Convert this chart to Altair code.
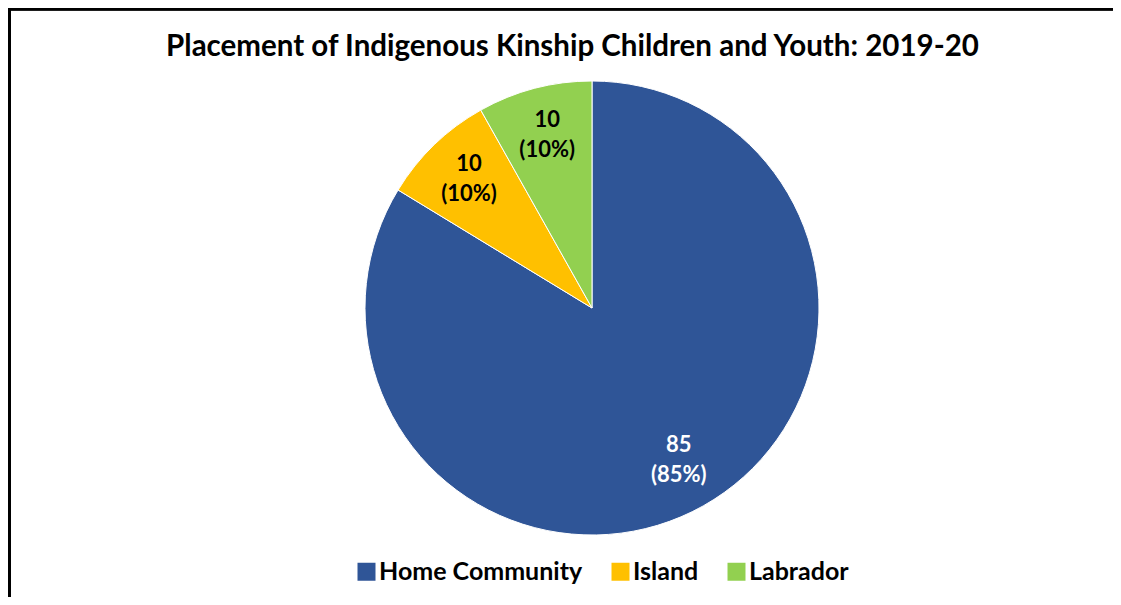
import altair as alt
import pandas as pd

# ---- data ----
categories = ["Home Community", "Island", "Labrador"]
counts = [85, 10, 10]            # value printed on each slice
percents = [85, 10, 10]          # percentage printed on each slice
slice_shares = [83.7, 8.15, 8.15]  # share of the circle each slice covers in the drawing
colors = ["#2F5597", "#FFC000", "#92D050"]
title_text = "Placement of Indigenous Kinship Children and Youth: 2019-20"

df = pd.DataFrame({
    "category": categories,
    "count": counts,
    "percent": percents,
    "share": slice_shares,
    "order": list(range(len(categories))),
})
df["label"] = [f"{c}\n({p}%)" for c, p in zip(counts, percents)]

W, H = 1105, 589
CX, CY, R = 584, 300, 227
FONT = "Lato"

base = alt.Chart(df).encode(
    theta=alt.Theta("share:Q", stack=True),
    order=alt.Order("order:Q"),
)

pie = base.mark_arc(outerRadius=R, stroke="white", strokeWidth=1).encode(
    x=alt.value(CX),
    y=alt.value(CY),
    color=alt.Color(
        "category:N",
        scale=alt.Scale(domain=categories, range=colors),
        sort=categories,
        legend=alt.Legend(
            title=None,
            orient="none",
            legendX=346,
            legendY=551,
            direction="horizontal",
            symbolType="square",
            symbolSize=324,
            symbolStrokeWidth=0,
            labelFont=FONT,
            labelFontSize=25,
            labelFontWeight="bold",
            labelColor="black",
            labelOffset=0,
            labelLimit=400,
            columnPadding=25,
        ),
    ),
)

labels = base.mark_text(
    radius=177, font=FONT, fontSize=22, fontWeight="bold",
    lineBreak="\n", lineHeight=30, align="center", baseline="middle", dy=-17,
).encode(
    x=alt.value(CX),
    y=alt.value(CY),
    text="label:N",
    color=alt.condition("datum.category == 'Home Community'", alt.value("white"), alt.value("black")),
)

frame_top = alt.Chart(df).mark_rule(color="black", strokeWidth=3).encode(
    x=alt.value(0), x2=alt.value(W), y=alt.value(1)
)
frame_left = alt.Chart(df).mark_rule(color="black", strokeWidth=3).encode(
    x=alt.value(1.5), y=alt.value(0), y2=alt.value(H)
)

chart = alt.layer(frame_top, frame_left, pie, labels).properties(
    width=W,
    height=H,
    autosize=alt.AutoSizeParams(type="none"),
    padding=0,
    title=alt.Title(
        title_text, font=FONT, fontSize=29.5, fontWeight="bold", color="black",
        anchor="middle", frame="group", offset=-56, dx=12,
    ),
).configure_view(stroke=None)

chart.save("out.html", embed_options={"renderer": "svg", "actions": False})
